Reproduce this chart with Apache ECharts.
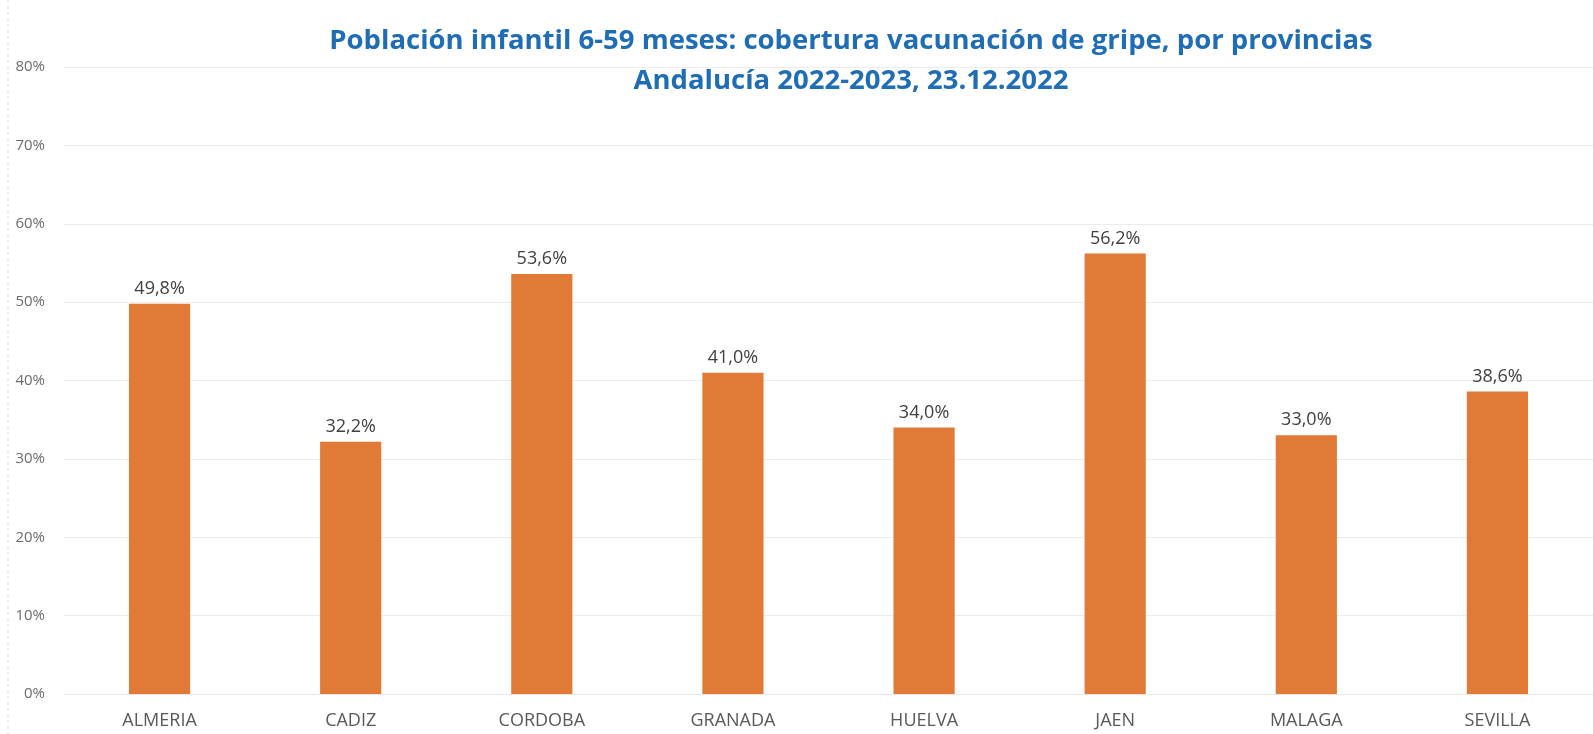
<!doctype html>
<html>
<head>
<meta charset="utf-8">
<title>Cobertura vacunación gripe</title>
<script src="https://cdn.jsdelivr.net/npm/echarts@6/dist/echarts.min.js"></script>
<style type="text/css">
	html,body{margin:0;padding:0;background:#fff;}
	#chart{width:1593px;height:734px;}
</style>
</head>
<body>
<div id="chart"></div>
<script type="text/javascript">
// provincias
var provincias = ['ALMERIA', 'CADIZ', 'CORDOBA', 'GRANADA', 'HUELVA', 'JAEN', 'MALAGA', 'SEVILLA'];
// cobertura (%)
var cobertura = [49.8, 32.2, 53.6, 41.0, 34.0, 56.2, 33.0, 38.6];
var yTicks = [0, 10, 20, 30, 40, 50, 60, 70, 80];

var chart = echarts.init(document.getElementById('chart'));
var option = {
	backgroundColor: '#fff',
	title: {
		text: 'Población infantil 6-59 meses: cobertura vacunación de gripe, por provincias\nAndalucía 2022-2023, 23.12.2022',
		left: 846,
		top: 16,
		textAlign: 'center',
		textStyle: {
			color: '#1f6db4',
			fontFamily: 'Open Sans',
			fontWeight: 'bold',
			fontSize: 27.5,
			lineHeight: 40
		}
	},
	graphic: [{
		type: 'line',
		shape: {x1: 8, y1: 0, x2: 8, y2: 734},
		style: {stroke: '#d9d9d9', lineWidth: 1, lineDash: [3, 3]}
	}],
	grid: {
		left: 64,
		right: -34,
		top: 67,
		bottom: 40
	},
	xAxis: {
		type: 'category',
		data: provincias,
		axisLine: {show: true, lineStyle: {color: '#e6e6e6', width: 1}},
		axisTick: {show: false},
		axisLabel: {
			color: '#595959',
			fontFamily: 'Open Sans',
			fontSize: 18,
			margin: 18
		}
	},
	yAxis: {
		type: 'value',
		min: 0,
		max: 80,
		interval: 10,
		axisLine: {show: false},
		axisTick: {show: false},
		splitLine: {lineStyle: {color: '#ececec', width: 1}},
		axisLabel: {
			color: '#6b6b6b',
			fontFamily: 'Open Sans',
			fontSize: 15,
			margin: 19,
			formatter: function(v){ return yTicks.indexOf(v) >= 0 ? v + '%' : ''; }
		}
	},
	series: [{
		type: 'bar',
		data: cobertura,
		barWidth: '32%',
		itemStyle: {color: '#e07a36'},
		label: {
			show: true,
			position: 'top',
			distance: 6,
			color: '#404040',
			fontFamily: 'Open Sans',
			fontSize: 18,
			formatter: function(p){ return p.value.toFixed(1).replace('.', ',') + '%'; }
		}
	}]
};
chart.setOption(option);
</script>
</body>
</html>
